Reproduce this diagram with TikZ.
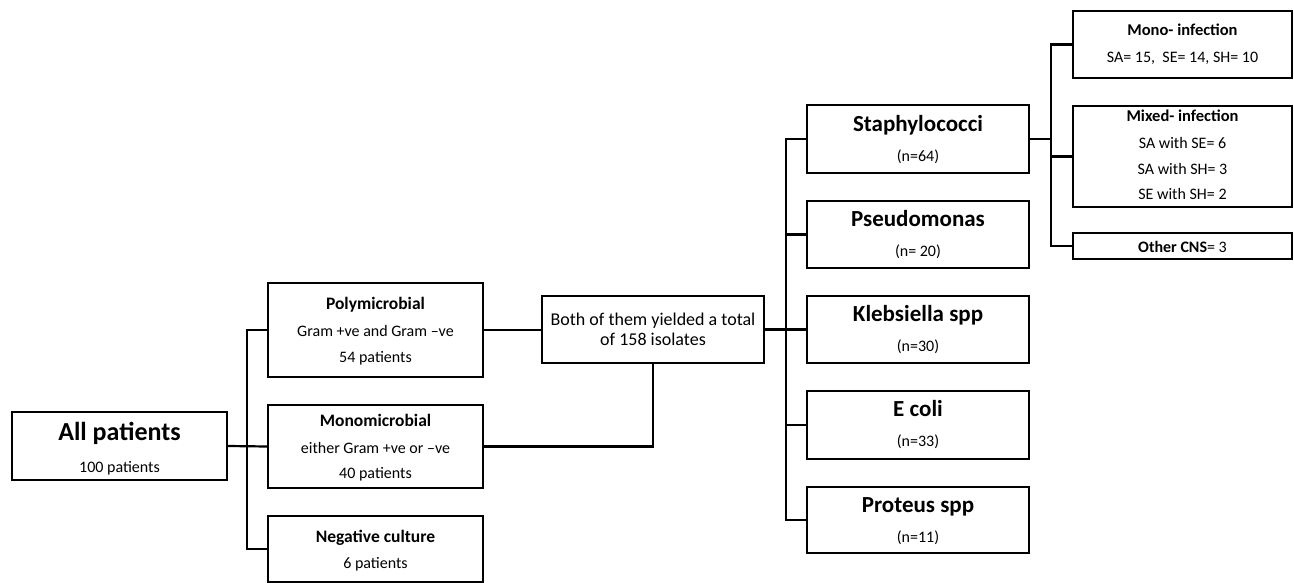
\documentclass[tikz,border=0pt]{standalone}
\usepackage{fontspec}
\setmainfont{Carlito}
\begin{document}
\begin{tikzpicture}[x=1pt,y=-1pt,
  box/.style={draw=black,line width=2.2pt,rectangle,inner sep=0pt,fill=white},
  conn/.style={draw=black,line width=2.2pt},
  big/.style={anchor=base,inner sep=0pt,font=\fontsize{26}{30}\selectfont\bfseries},
  med/.style={anchor=base,inner sep=0pt,font=\fontsize{23}{27}\selectfont\bfseries},
  sub/.style={anchor=base,inner sep=0pt,font=\fontsize{17.5}{21}\selectfont\bfseries},
  subs/.style={anchor=base,inner sep=0pt,font=\fontsize{16.5}{20}\selectfont\bfseries},
  txt/.style={anchor=base,inner sep=0pt,font=\fontsize{16}{19}\selectfont},
  btxt/.style={anchor=base,inner sep=0pt,font=\fontsize{18}{21}\selectfont}]
\useasboundingbox (0,0) rectangle (1294,583);
% boxes
\node[box,minimum width=215pt,minimum height=68pt] (all) at (119.5,446) {};
\node[box,minimum width=215pt,minimum height=94pt] (poly) at (375.5,330) {};
\node[box,minimum width=215pt,minimum height=83pt] (mono) at (375.5,446.5) {};
\node[box,minimum width=215pt,minimum height=66pt] (neg) at (375.5,549) {};
\node[box,minimum width=222pt,minimum height=67pt] (both) at (653,329.5) {};
\node[box,minimum width=222pt,minimum height=68pt] (staph) at (918,139) {};
\node[box,minimum width=222pt,minimum height=67pt] (pseudo) at (918,234.5) {};
\node[box,minimum width=222pt,minimum height=67pt] (kleb) at (918,329.5) {};
\node[box,minimum width=222pt,minimum height=68pt] (ecoli) at (918,425) {};
\node[box,minimum width=222pt,minimum height=66pt] (proteus) at (918,520) {};
\node[box,minimum width=219pt,minimum height=67pt] (monoinf) at (1182.5,44.5) {};
\node[box,minimum width=219pt,minimum height=101pt] (mixed) at (1182.5,156.5) {};
\node[box,minimum width=219pt,minimum height=26pt] (other) at (1182.5,246) {};
% connectors
\coordinate (t1) at (247,446);
\coordinate (t2) at (786,329.5);
\coordinate (t3) at (1051,139);
\draw[conn] (all.east) -- (mono.west);
\draw[conn] (poly.west) -| (t1) |- (neg.west);
\draw[conn] (poly.east) -- (poly.east -| both.west);
\draw[conn] (mono.east) -| (both.south);
\draw[conn] (both.east) -- (kleb.west);
\draw[conn] (staph.west) -| (t2) |- (proteus.west);
\draw[conn] (pseudo.west) -| (t2);
\draw[conn] (ecoli.west) -| (t2);
\draw[conn] (staph.east) -- (t3);
\draw[conn] (monoinf.west) -| (t3) |- (other.west);
\draw[conn] (mixed.west) -| (t3);
% texts
\node[big] at (119.5,440) {All patients};
\node[txt] at (119.5,472) {100 patients};
\node[sub] at (375.5,309) {Polymicrobial};
\node[txt] at (375.5,336) {Gram +ve and Gram –ve};
\node[txt] at (375.5,362) {54 patients};
\node[sub] at (375.5,426) {Monomicrobial};
\node[txt] at (375.5,453) {either Gram +ve or –ve};
\node[txt] at (375.5,478) {40 patients};
\node[sub] at (375.5,542) {Negative culture};
\node[txt] at (375.5,568) {6 patients};
\node[btxt] at (653,325) {Both of them yielded a total};
\node[btxt] at (653,345) {of 158 isolates};
\node[med] at (918,131.5) {Staphylococci};
\node[txt] at (918,161.5) {(n=64)};
\node[med] at (918,226.5) {Pseudomonas};
\node[txt] at (918,256.5) {(n= 20)};
\node[med] at (918,321.5) {Klebsiella spp};
\node[txt] at (918,351.5) {(n=30)};
\node[med] at (918,416.5) {E coli};
\node[txt] at (918,446.5) {(n=33)};
\node[med] at (918,512.5) {Proteus spp};
\node[txt] at (918,542.5) {(n=11)};
\node[subs] at (1182.5,36) {Mono- infection};
\node[txt] at (1182.5,63) {SA= 15,\ \ SE= 14, SH= 10};
\node[subs] at (1182.5,121.5) {Mixed- infection};
\node[txt] at (1182.5,149) {SA with SE= 6};
\node[txt] at (1182.5,175) {SA with SH= 3};
\node[txt] at (1182.5,200) {SE with SH= 2};
\node[txt] at (1182.5,252) {\textbf{Other CNS}= 3};
\end{tikzpicture}
\end{document}
